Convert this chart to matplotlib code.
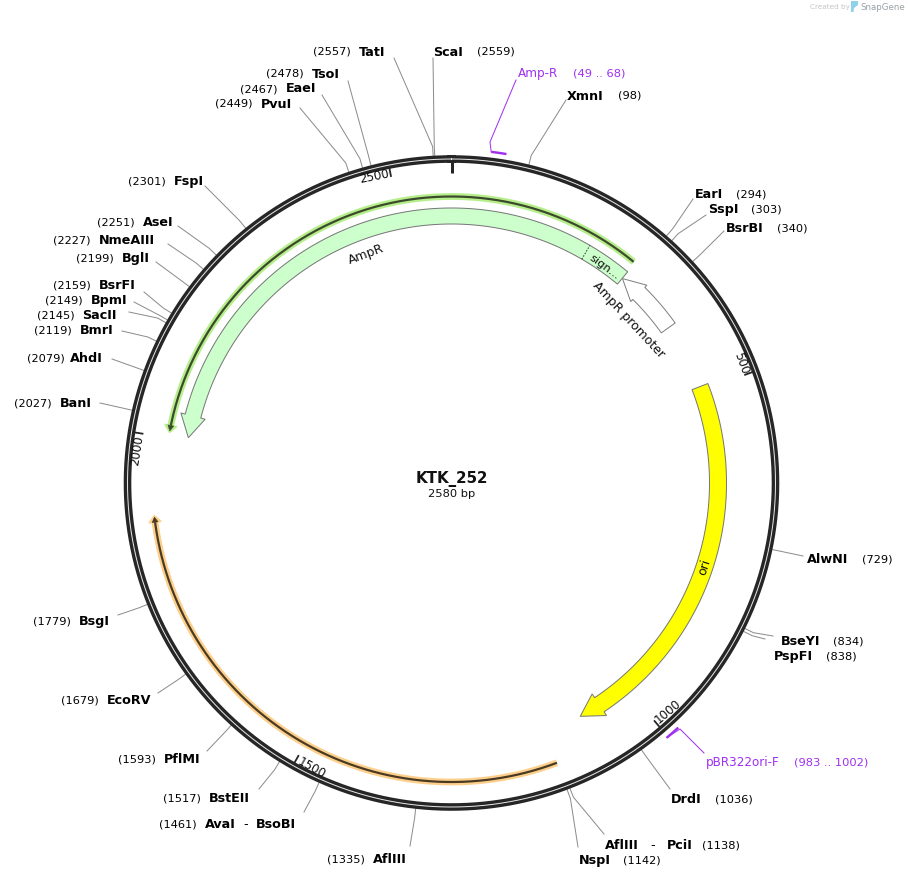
import numpy as np
import matplotlib
matplotlib.use("Agg")
import matplotlib.pyplot as plt
from matplotlib.patches import Polygon

plt.rcParams['font.family'] = ['DejaVu Sans']

# ---------- data ----------
plasmid_name = "KTK_252"
plasmid_len = 2580
site_names = ["TatI", "ScaI", "XmnI", "TsoI", "EaeI", "PvuI", "FspI", "AseI", "NmeAIII", "BglI",
              "BsrFI", "BpmI", "SacII", "BmrI", "AhdI", "BanI", "BsgI", "EcoRV", "PflMI", "BstEII",
              "AvaI", "AflIII", "NspI", "AflIII", "DrdI", "PspFI", "BseYI", "AlwNI", "BsrBI", "SspI", "EarI"]
site_bp = [2557, 2559, 98, 2478, 2467, 2449, 2301, 2251, 2227, 2199,
           2159, 2149, 2145, 2119, 2079, 2027, 1779, 1679, 1593, 1517,
           1461, 1335, 1142, 1138, 1036, 838, 834, 729, 340, 303, 294]
tick_bp = [500, 1000, 1500, 2000, 2500]
primer_names = ["Amp-R", "pBR322ori-F"]
primer_start = [49, 983]
primer_end = [68, 1002]

# ---------- layout (pixels) ----------
W, H = 908, 879
CX, CY = 451.5, 484.0
# name x, name y, paren x, line end x, line end y
site_layout = [
    (359, 52, 313, 394, 59), (433, 52, 477, 433, 59), (567, 96, 618, 566, 101),
    (312, 74, 266, 348, 82), (286, 89, 240, 322, 96), (261, 104, 215, 300, 109),
    (174, 181, 128, 205, 187), (143, 223, 97, 178, 227), (99, 241, 53, 168, 245),
    (122, 259, 76, 156, 263), (99, 286, 53, 144, 293), (91, 301, 45, 134, 303),
    (82, 316, 37, 129, 313), (80, 331, 34, 122, 332), (70, 359, 27, 112, 360),
    (60, 404, 14, 100, 404), (79, 622, 33, 118, 616), (107, 701, 61, 158, 694),
    (164, 760, 118, 207, 752), (209, 799, 163, 259, 790), (205, 825, 159, 304, 813),
    (373, 860, 327, 410, 847), (579, 861, 623, 578, 848), (605, 846, 702, 604, 835),
    (671, 800, 715, 670, 790), (774, 657, 826, 765, 640), (781, 642, 833, 773, 637),
    (807, 560, 862, 803, 557), (726, 229, 777, 724, 232), (708, 210, 751, 706, 216),
    (695, 195, 736, 693, 200),
]

DARK = "#262626"
GREY = "#8c8c8c"
PURPLE = "#a02ff0"


def ang(bp):
    return np.deg2rad(np.asarray(bp, dtype=float) / plasmid_len * 360.0)


def pt(bp, r):
    a = ang(bp)
    return CX + r * np.sin(a), CY - r * np.cos(a)


def arc(b0, b1, r, n=200):
    return np.column_stack(pt(np.linspace(b0, b1, n), r))


def px(v):
    return v * 0.72


def arrow(tail, neck, tip, r0, r1, head_pad):
    """Block arc from tail to neck, head running to tip."""
    rm = (r0 + r1) / 2
    pts = np.vstack([arc(tail, neck, r1), [pt(neck, r1 + head_pad)], [pt(tip, rm)],
                     [pt(neck, r0 - head_pad)], arc(neck, tail, r0)])
    return pts


fig = plt.figure(figsize=(W / 100, H / 100), dpi=100)
ax = fig.add_axes([0, 0, 1, 1])
ax.set_xlim(0, W)
ax.set_ylim(H, 0)
ax.axis("off")

# backbone
circ = arc(0, plasmid_len, 324, 720)
ax.plot(circ[:, 0], circ[:, 1], color=DARK, lw=px(7.6), zorder=3)
ax.plot(circ[:, 0], circ[:, 1], color="#e6e6e6", lw=px(1.0), zorder=4)

# ticks
x, y = zip(pt(0, 310), pt(0, 322))
ax.plot(x, y, color=DARK, lw=px(3), solid_capstyle="butt", zorder=3)
tick_label_pos = [(741, 363), (668, 712), (312, 768), (137, 450.5), (374, 177)]
for b, (tx, ty) in zip(tick_bp, tick_label_pos):
    x, y = zip(pt(b, 312), pt(b, 322))
    ax.plot(x, y, color=DARK, lw=px(1.8), solid_capstyle="butt", zorder=3)
    th = b / plasmid_len * 360
    rot = -th if th < 90 or th > 270 else 180 - th
    ax.text(tx, ty, str(b), rotation=rot, rotation_mode="anchor", ha="center", va="center",
            fontsize=px(12), color="#111111")

# AmpR feature with signal peptide
ax.add_patch(Polygon(arrow(285.5, 2039 - plasmid_len, 2005 - plasmid_len, 259, 275, 4.5),
                     closed=True, fc="#ccffcc", ec="#777777", lw=px(1), zorder=2))
dash = np.array([pt(216.5, 259), pt(216.5, 275)])
ax.plot(dash[:, 0], dash[:, 1], color="#333333", lw=px(1), ls=(0, (1.5, 1.5)), zorder=3)

# AmpR promoter
ax.add_patch(Polygon(arrow(390, 320, 286, 258, 275, 3),
                     closed=True, fc="white", ec="#808080", lw=px(1), zorder=2))

# ori
ax.add_patch(Polygon(arrow(493, 1048.5, 1083, 258, 275, 4.5),
                     closed=True, fc="#ffff00", ec="#777777", lw=px(1), zorder=2))


def primer_arrow(b0, neck, tip, r, glow, core):
    a = arc(b0, neck, r)
    ax.plot(a[:, 0], a[:, 1], color=glow, lw=px(6.8), solid_capstyle="butt", zorder=2)
    ax.add_patch(Polygon([pt(neck, r + 6), pt(tip, r), pt(neck, r - 6)], closed=True, fc=glow, ec=glow,
                         lw=px(1.5), zorder=2))
    ax.plot(a[:, 0], a[:, 1], color=core, lw=px(2.2), solid_capstyle="butt", zorder=2.5)
    ax.add_patch(Polygon([pt(neck, r + 3), pt(tip - np.sign(tip - neck) * 2, r), pt(neck, r - 3)], closed=True,
                         fc=core, ec=core, lw=px(0.5), zorder=2.5))


primer_arrow(283, 2018 - plasmid_len, 2008 - plasmid_len, 286.5, "#b7ee8c", "#3c4a2c")
primer_arrow(1142, 1881, 1890, 299, "#fcd08c", "#4a3a22")

# feature labels
ax.text(366, 254, "AmpR", rotation=20.3, rotation_mode="anchor", ha="center", va="center", fontsize=px(12.5), color="#111111")
ax.text(604, 267, "sign...", rotation=-36, rotation_mode="anchor", ha="center", va="center", fontsize=px(11.5), color="#111111", zorder=5)
ax.text(628.5, 320, "AmpR promoter", rotation=-47, rotation_mode="anchor", ha="center", va="center", fontsize=px(12.5), color="#111111")
ax.text(704.5, 567, "ori", rotation=72, rotation_mode="anchor", ha="center", va="center", fontsize=px(12.5), color="#111111", zorder=5)

# primers
primer_text = [("%d .. %d" % (primer_start[0], primer_end[0]), 518, 74, 573, (490, 143), (516, 81)),
               ("%d .. %d" % (primer_start[1], primer_end[1]), 706, 763, 794, (680, 730), (704, 754))]
for name, b0, b1, (rng, nx, ny, rx, knee, end) in zip(primer_names, primer_start, primer_end, primer_text):
    a = arc(b0, b1, 333.5, 30)
    ax.plot(a[:, 0], a[:, 1], color=PURPLE, lw=px(2.4), solid_capstyle="butt", zorder=4)
    link = np.array([a[0] if b0 < 100 else a[-1], knee, end])
    ax.plot(link[:, 0], link[:, 1], color=PURPLE, lw=px(1), zorder=4)
    ax.text(nx, ny, name, ha="left", va="center", color=PURPLE, fontsize=px(12))
    ax.text(rx, ny, "(%s)" % rng, ha="left", va="center", color=PURPLE, fontsize=px(11.5))

# restriction sites
for name, b, (nx, ny, rx, lx, ly) in zip(site_names, site_bp, site_layout):
    p0, p1 = pt(b, 328), pt(b, 337)
    ax.plot([p0[0], p1[0], lx], [p0[1], p1[1], ly], color=GREY, lw=px(1), zorder=1)
    ax.text(nx, ny, name, ha="left", va="center", fontweight="bold", fontsize=px(12.7), color="black")
    ax.text(rx, ny, "(%d)" % b, ha="left", va="center", fontsize=px(11.4), color="black")

# joined labels
ax.text(246, 825, "-", ha="center", va="center", fontsize=px(12.7), color="black")
ax.text(256, 825, "BsoBI", ha="left", va="center", fontweight="bold", fontsize=px(12.7), color="black")
ax.text(653, 846, "-", ha="center", va="center", fontsize=px(12.7), color="black")
ax.text(667, 846, "PciI", ha="left", va="center", fontweight="bold", fontsize=px(12.7), color="black")

# centre
ax.text(451.5, 479, plasmid_name, ha="center", va="center", fontweight="bold", fontsize=px(15), color="#111111")
ax.text(451.5, 494, "%d bp" % plasmid_len, ha="center", va="center", fontsize=px(11.5), color="#111111")

# watermark
ax.text(810, 7.5, "Created by", ha="left", va="center", fontsize=px(7.3), color="#c4c4c4")
ax.add_patch(Polygon([(851, 2), (858, 2), (858, 6), (854, 9), (853.5, 13), (851, 13)], closed=True, fc="#8fd0ea", ec="none"))
ax.text(860, 7.5, "SnapGene", ha="left", va="center", fontsize=px(8.6), color="#9aa0a6")

fig.savefig("out.png", dpi=100, facecolor="white")
